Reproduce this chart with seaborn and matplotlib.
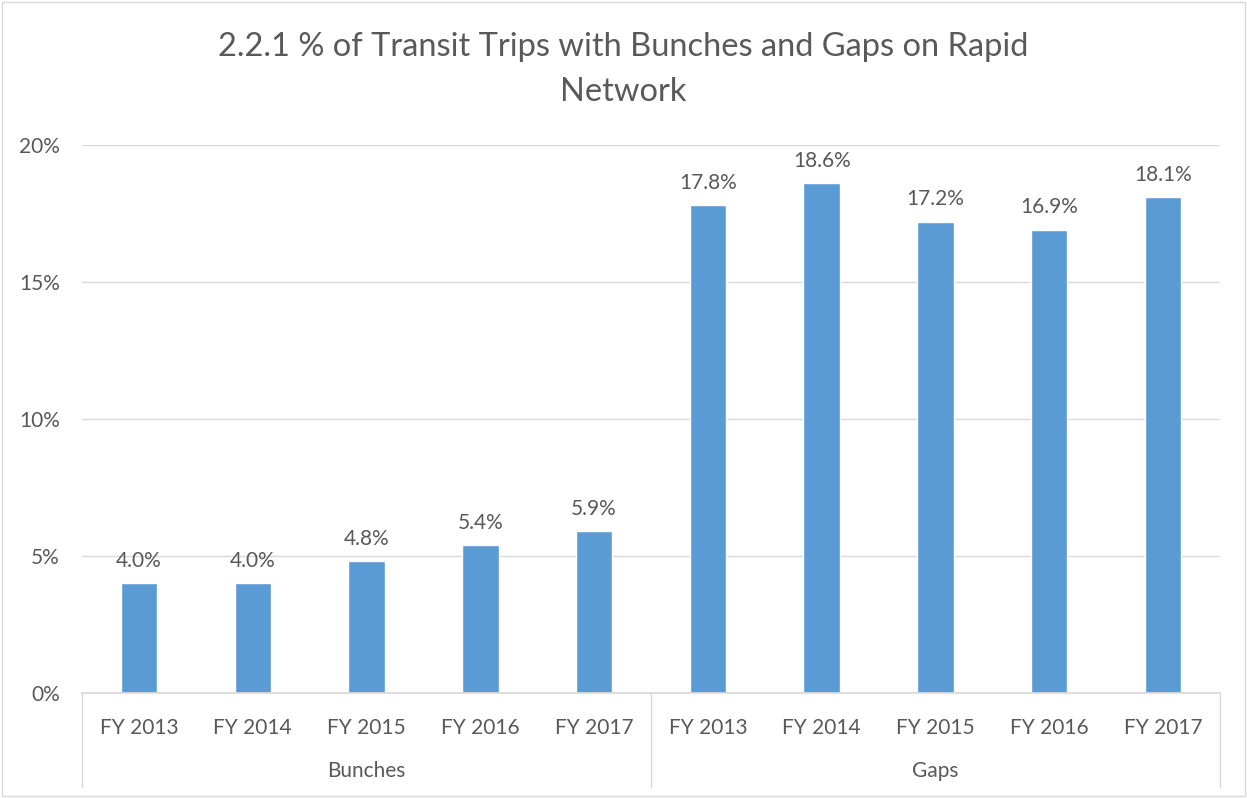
import pandas as pd
import seaborn as sns
import matplotlib.pyplot as plt
from matplotlib.ticker import FuncFormatter

# values (percent)
groups = ["Bunches", "Gaps"]
years = ["FY 2013", "FY 2014", "FY 2015", "FY 2016", "FY 2017"]
bunches = [4.0, 4.0, 4.8, 5.4, 5.9]
gaps = [17.8, 18.6, 17.2, 16.9, 18.1]

df = pd.DataFrame({
    "group": ["Bunches"] * len(years) + ["Gaps"] * len(years),
    "year": years + years,
    "pct": bunches + gaps,
})
df["key"] = df["group"] + " " + df["year"]

sns.set_theme(style="white")
plt.rcParams["font.family"] = ["Lato", "DejaVu Sans"]
text_color = "#595959"
grid_color = "#D9D9D9"

fig = plt.figure(figsize=(12.47, 7.98), dpi=100)
ax = fig.add_axes([0.0658, 0.1316, 0.9125, 0.6867])

sns.barplot(data=df, x="key", y="pct", order=list(df["key"]), color="#5B9BD5",
            width=0.32, saturation=1, ax=ax)

for c in ax.containers:
    ax.bar_label(c, labels=[f"{v:.1f}%" for v in c.datavalues], padding=9,
                 fontsize=15, color=text_color)

ax.set_ylim(0, 20)
ax.set_yticks([0, 5, 10, 15, 20])
ax.yaxis.set_major_formatter(FuncFormatter(lambda v, p: f"{v:.0f}%"))
ax.yaxis.grid(True, color=grid_color, linewidth=1)
ax.set_axisbelow(True)
ax.set_xlim(-0.5, len(df) - 0.5)

ax.set_xticks(range(len(df)))
ax.set_xticklabels(df["year"])
ax.tick_params(axis="x", length=0, pad=18, labelsize=15, labelcolor=text_color)
ax.tick_params(axis="y", length=0, pad=16, labelsize=15, labelcolor=text_color)
ax.set_xlabel("")
ax.set_ylabel("")

for s in ["top", "right", "left"]:
    ax.spines[s].set_visible(False)
ax.spines["bottom"].set_color(grid_color)

# group separators and group labels under the axis
xt = ax.get_xaxis_transform()
n = len(years)
for i in range(len(groups) + 1):
    ax.plot([i * n - 0.5, i * n - 0.5], [0, -0.172], transform=xt,
            color=grid_color, linewidth=1, clip_on=False)
for i, g in enumerate(groups):
    ax.text(i * n + (n - 1) / 2, -0.142, g, transform=xt, ha="center",
            va="center", fontsize=15, color=text_color)

fig.text(0.5, 0.913, "2.2.1 % of Transit Trips with Bunches and Gaps on Rapid\nNetwork",
         ha="center", va="center", fontsize=23.5, color=text_color, linespacing=1.6)

# outer chart border
fig.patches.append(plt.Rectangle((0.002, 0.002), 0.996, 0.996, transform=fig.transFigure,
                                 fill=False, edgecolor=grid_color, linewidth=1))

fig.savefig("out.png", dpi=100)
